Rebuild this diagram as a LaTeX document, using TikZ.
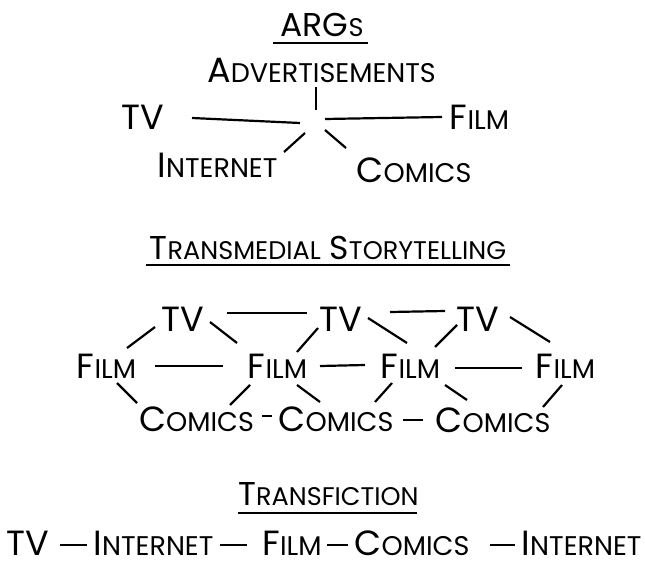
\documentclass[tikz,border=0pt]{standalone}
\usepackage{fontspec}
\setmainfont{Poppins}
\usetikzlibrary{calc}

% sizes: full capitals and the smaller capitals of the fake small-caps
\newcommand\labelsize{\fontsize{35}{40}\selectfont}
\newcommand\labelsmall{\fontsize{27}{30}\selectfont}
\newcommand\headsize{\fontsize{33}{38}\selectfont}
\newcommand\headsmall{\fontsize{25.5}{30}\selectfont}
\newcommand\scword[2]{#1{\labelsmall #2}}
\newcommand\scheadword[2]{#1{\headsmall #2}}

\tikzset{
  word/.style={inner sep=0pt, font=\labelsize},
  heading/.style={inner sep=0pt, font=\headsize},
  link/.style={line width=2.2pt},
  uline/.style={line width=1.8pt},
}

\begin{document}
\begin{tikzpicture}[x=1pt, y=-1pt]
\useasboundingbox (0,0) rectangle (645,564);

% ---------- ARGs ----------
\node[heading] (args) at (322,25) {\scheadword{ARG}{S}};
\draw[uline] ([shift={(-49,18)}]args.center) -- ([shift={(46,18)}]args.center);

\node[word] (adv) at (321.5,70) {\scword{A}{DVERTISEMENTS}};
\node[word] (tv) at (142.5,117.5) {TV};
\node[word] (film) at (479.5,117.5) {\scword{F}{ILM}};
\node[word] (net) at (217.5,165.5) {\scword{I}{NTERNET}};
\node[word] (comics) at (414,170) {\scword{C}{OMICS}};
\coordinate (hub) at (314,125);

\draw[link] ([shift={(-5.5,17)}]adv.center) -- ([shift={(2,-15)}]hub);
\draw[link] ([shift={(49.5,0.5)}]tv.center) -- ([shift={(-14,-2)}]hub);
\draw[link] ([shift={(11,-6)}]hub) -- ([shift={(-37.5,-0.5)}]film.center);
\draw[link] ([shift={(-9,8)}]hub) -- ([shift={(66.5,-13.5)}]net.center);
\draw[link] ([shift={(11,5)}]hub) -- ([shift={(-68,-22)}]comics.center);

% ---------- Transmedial storytelling ----------
\node[heading] (ts) at (328,247.5) {\scheadword{T}{RANSMEDIAL} \scheadword{S}{TORYTELLING}};
\draw[uline] ([shift={(-182,17.5)}]ts.center) -- ([shift={(182,17.5)}]ts.center);

\node[word] (tv1) at (183,319.5) {TV};
\node[word] (tv2) at (341,319.5) {TV};
\node[word] (tv3) at (477.5,319.5) {TV};
\node[word] (film1) at (106.5,366.5) {\scword{F}{ILM}};
\node[word] (film2) at (277.5,366.5) {\scword{F}{ILM}};
\node[word] (film3) at (410.5,366.5) {\scword{F}{ILM}};
\node[word] (film4) at (565.5,366.5) {\scword{F}{ILM}};
\node[word] (comics1) at (196.5,419) {\scword{C}{OMICS}};
\node[word] (comics2) at (336,419) {\scword{C}{OMICS}};
\node[word] (comics3) at (493,420) {\scword{C}{OMICS}};

\draw[link] ([shift={(44,-6.5)}]tv1.center) -- ([shift={(-34,-6.5)}]tv2.center);
\draw[link] ([shift={(49,-7.5)}]tv2.center) -- ([shift={(-32.5,-8.5)}]tv3.center);
\draw[link] ([shift={(-28,7.5)}]tv1.center) -- ([shift={(20.5,-18.5)}]film1.center);
\draw[link] ([shift={(27,2.5)}]tv1.center) -- ([shift={(-40.5,-23.5)}]film2.center);
\draw[link] ([shift={(-23,8.5)}]tv2.center) -- ([shift={(19.5,-14.5)}]film2.center);
\draw[link] ([shift={(27,-1.5)}]tv2.center) -- ([shift={(-3.5,-23.5)}]film3.center);
\draw[link] ([shift={(-20.5,5.5)}]tv3.center) -- ([shift={(24.5,-19.5)}]film3.center);
\draw[link] ([shift={(32.5,-2.5)}]tv3.center) -- ([shift={(-15.5,-24.5)}]film4.center);
\draw[link] ([shift={(48.5,-0.5)}]film1.center) -- ([shift={(-54.5,-0.5)}]film2.center);
\draw[link] ([shift={(42.5,-0.5)}]film2.center) -- ([shift={(-45.5,-1.5)}]film3.center);
\draw[link] ([shift={(44.5,1.5)}]film3.center) -- ([shift={(-43.5,1.5)}]film4.center);
\draw[link] ([shift={(10.5,16.5)}]film1.center) -- ([shift={(-59.5,-16)}]comics1.center);
\draw[link] ([shift={(-27.5,18.5)}]film2.center) -- ([shift={(33.5,-14)}]comics1.center);
\draw[link] ([shift={(19.5,18.5)}]film2.center) -- ([shift={(-16,-17)}]comics2.center);
\draw[link] ([shift={(-18.5,16.5)}]film3.center) -- ([shift={(39,-17)}]comics2.center);
\draw[link] ([shift={(34.5,18.5)}]film3.center) -- ([shift={(-26,-20)}]comics3.center);
\draw[link] ([shift={(-3.5,18.5)}]film4.center) -- ([shift={(50,-13)}]comics3.center);
\draw[link] ([shift={(65.5,-3)}]comics1.center) -- ([shift={(-64,-3)}]comics2.center);
\draw[link] ([shift={(67,1)}]comics2.center) -- ([shift={(-70,0)}]comics3.center);

% ---------- Transfiction ----------
\node[heading] (tf) at (328.5,494) {\scheadword{T}{RANSFICTION}};
\draw[uline] ([shift={(-90.5,19)}]tf.center) -- ([shift={(88.5,19)}]tf.center);

\node[word] (tvb) at (27.5,543) {TV};
\node[word] (netb1) at (153.5,543) {\scword{I}{NTERNET}};
\node[word] (filmb) at (292,543) {\scword{F}{ILM}};
\node[word] (comicsb) at (412,543) {\scword{C}{OMICS}};
\node[word] (netb2) at (581.5,543) {\scword{I}{NTERNET}};

\draw[link] ([shift={(32.5,2)}]tvb.center) -- ([shift={(-66.5,2)}]netb1.center);
\draw[link] ([shift={(66.5,2)}]netb1.center) -- ([shift={(-45,2)}]filmb.center);
\draw[link] ([shift={(35,2)}]filmb.center) -- ([shift={(-64,2)}]comicsb.center);
\draw[link] ([shift={(78,2)}]comicsb.center) -- ([shift={(-66.5,2)}]netb2.center);
\end{tikzpicture}
\end{document}
